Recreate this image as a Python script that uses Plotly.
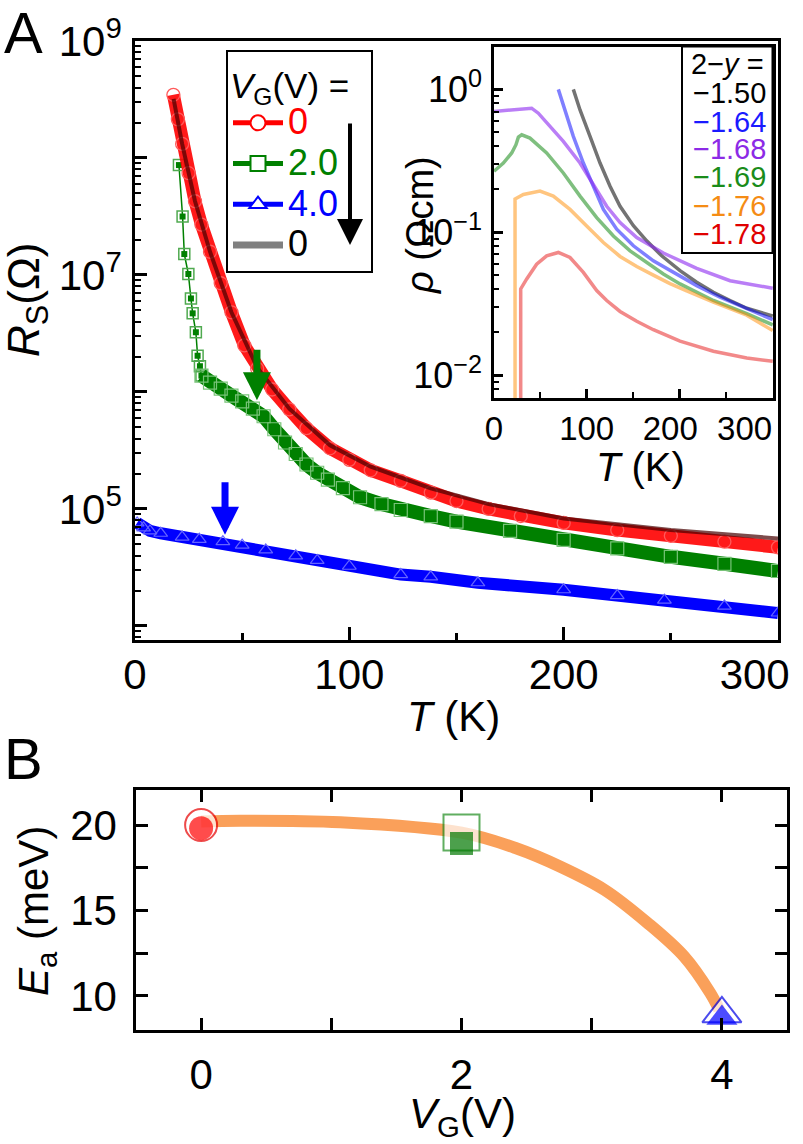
import plotly.graph_objects as go

W, H = 803, 1144
FONT = "Liberation Sans"

# ---------------- Panel A main data (T in K, R_S in Ohm) ----------------
T_red = [17.9, 20, 22, 25, 28, 31, 35, 40, 45, 51, 57, 64, 72, 80, 91, 100, 110, 124, 138, 150, 165, 180, 200, 225, 250, 275, 300]
R_red = [3.47e8, 2.14e8, 1.32e8, 7.41e7, 4.27e7, 2.69e7, 1.58e7, 8.5e6, 4.8e6, 2.5e6, 1.58e6, 1.05e6, 7.1e5, 4.9e5, 3.3e5, 2.63e5, 2.14e5, 1.74e5, 1.38e5, 1.17e5, 1.0e5, 8.7e4, 7.6e4, 6.6e4, 5.9e4, 5.25e4, 4.7e4]

T_gray = [18, 22, 28, 35, 45, 57, 72, 91, 110, 138, 165, 200, 250, 300]
R_gray = [3.2e8, 1.32e8, 4.27e7, 1.58e7, 4.8e6, 1.62e6, 7.2e5, 3.5e5, 2.3e5, 1.5e5, 1.1e5, 8.3e4, 6.6e4, 5.6e4]

T_green_lo = [20.5, 22.2, 23.0, 24.9, 26.1, 26.9, 28.4, 29.2, 30.3, 31]
R_green_lo = [8.7e7, 3.16e7, 1.51e7, 1.02e7, 6.3e6, 4.7e6, 3.24e6, 2.04e6, 1.66e6, 1.38e6]
T_green = [31, 35, 40, 45, 50, 55, 60, 65, 70, 75, 80, 85, 90, 97, 105, 115, 124, 138, 150, 175, 200, 225, 250, 275, 300]
R_green = [1.38e6, 1.2e6, 1.07e6, 9.3e5, 8.3e5, 7.2e5, 6.2e5, 4.8e5, 3.7e5, 2.95e5, 2.4e5, 2.04e5, 1.78e5, 1.51e5, 1.26e5, 1.1e5, 9.8e4, 8.7e4, 7.8e4, 6.5e4, 5.45e4, 4.6e4, 3.9e4, 3.4e4, 2.95e4]

T_blue = [1, 4, 7, 12, 22, 30, 41, 50, 61, 75, 85, 100, 124, 138, 160, 200, 225, 247, 275, 300]
R_blue = [7.6e4, 6.9e4, 6.5e4, 6.2e4, 5.75e4, 5.5e4, 5.25e4, 4.9e4, 4.47e4, 3.98e4, 3.63e4, 3.24e4, 2.75e4, 2.63e4, 2.34e4, 2.04e4, 1.82e4, 1.66e4, 1.48e4, 1.29e4]

legend_names = ["0", "2.0", "4.0", "0"]

# ---------------- Inset data (T in K, rho in Ohm cm) ----------------
inset_labels = ["\u22121.50", "\u22121.64", "\u22121.68", "\u22121.69", "\u22121.76", "\u22121.78"]
T_i150 = [85.6, 92.8, 103.6, 114.4, 125.2, 136, 150.4, 164.7, 180.9, 200.7, 218.7, 236.7, 254.7, 272.7, 300.7]
r_i150 = [1.0, 0.718, 0.469, 0.305, 0.210, 0.152, 0.111, 0.0871, 0.0684, 0.0538, 0.0447, 0.0380, 0.0333, 0.0294, 0.0259]
T_i164 = [69.4, 76.6, 85.6, 96.4, 107.2, 118, 132.4, 150.4, 171.9, 193.5, 218.7, 243.9, 272.7, 300.7]
r_i164 = [1.0, 0.700, 0.469, 0.305, 0.210, 0.1445, 0.105, 0.0804, 0.0631, 0.0524, 0.0423, 0.0351, 0.0291, 0.0245]
T_i168 = [0, 20.9, 40.6, 47.8, 60.4, 74.8, 92.8, 107.2, 121.6, 136, 154, 182.7, 218.7, 254.7, 300.7]
r_i168 = [0.700, 0.718, 0.738, 0.681, 0.550, 0.433, 0.305, 0.216, 0.152, 0.117, 0.0918, 0.0715, 0.0558, 0.0458, 0.0406]
T_i169 = [0, 10.1, 19.1, 23.7, 26.3, 29.9, 38.8, 56.8, 74.8, 92.8, 110.8, 128.8, 146.8, 164.7, 182.7, 200.7, 236.7, 272.7, 300.7]
r_i169 = [0.267, 0.305, 0.359, 0.410, 0.463, 0.481, 0.456, 0.359, 0.260, 0.179, 0.1265, 0.0942, 0.0741, 0.0615, 0.0511, 0.0435, 0.0333, 0.0269, 0.0225]
T_i176 = [22.7, 22.7, 31.7, 49.6, 64, 82, 100, 118, 136, 154, 171.9, 189.9, 207.9, 236.7, 272.7, 300.7]
r_i176 = [0.001, 0.171, 0.184, 0.194, 0.179, 0.1445, 0.1107, 0.0847, 0.0677, 0.0575, 0.0501, 0.0437, 0.0389, 0.0324, 0.0263, 0.0205]
T_i178 = [28.8, 28.8, 35.3, 46, 56.8, 69.4, 82, 96.4, 110.8, 121.6, 136, 154, 171.9, 200.7, 236.7, 272.7, 300.7]
r_i178 = [0.001, 0.0401, 0.0471, 0.0598, 0.0684, 0.0722, 0.0666, 0.0524, 0.0391, 0.0333, 0.0279, 0.0238, 0.0208, 0.0173, 0.0147, 0.0132, 0.0125]

inset_T = [T_i150, T_i164, T_i168, T_i169, T_i176, T_i178]
inset_r = [r_i150, r_i164, r_i168, r_i169, r_i176, r_i178]
inset_line_colors = ["rgba(0,0,0,0.55)", "rgba(0,0,255,0.5)", "rgba(140,40,240,0.6)",
                     "rgba(0,128,0,0.5)", "rgba(255,140,0,0.5)", "rgba(230,20,20,0.5)"]
inset_text_colors = ["#000000", "#1a1aff", "#8c2ae6", "#1a8c1a", "#f58c14", "#e00000"]

# ---------------- Panel B data ----------------
V_pts = [0, 2, 4]
Ea_open = [20.0, 19.56, 8.95]
Ea_fill = [19.81, 18.92, 8.7]
V_curve = [0, 0.3, 1.07, 2.0, 2.42, 2.76, 3.10, 3.43, 3.71, 3.91, 3.98]
Ea_curve = [20.2, 20.25, 20.16, 19.55, 18.64, 17.56, 16.2, 14.26, 12.3, 10.17, 9.18]

A_ytickvals = [1e4, 1e5, 1e6, 1e7, 1e8, 1e9]
A_yticktext = ["", "10<sup>5</sup>", "", "10<sup>7</sup>", "", "10<sup>9</sup>"]
A_xtickvals = [0, 100, 200, 300]
A_xticktext = ["0", "100", "200", "300" + "&nbsp;" * 4]
I_xtickvals = [0, 100, 200, 300]
I_xticktext = ["0", "100", "200" + "&nbsp;" * 2, "300" + "&nbsp;" * 6]
I_ytickvals = [0.01, 0.1, 1.0]
I_yticktext = ["10<sup>\u22122</sup>", "10<sup>\u22121</sup>", "10<sup>0</sup>"]
B_xtickvals = [0, 1, 2, 3, 4]
B_xticktext = ["0", "", "2", "", "4"]
B_ytickvals = [10, 12.5, 15, 17.5, 20]
B_yticktext = ["10", "", "15", "", "20"]


def px(x):
    return x / W


def py(y):
    return 1 - y / H


fig = go.Figure()

RED = "rgb(255,0,0)"
GREEN = "rgb(0,128,0)"
BLUE = "rgb(0,0,255)"

# --- main panel traces ---
fig.add_trace(go.Scatter(x=T_blue, y=R_blue, mode="lines+markers", showlegend=False,
                         line=dict(color=BLUE, width=12),
                         marker=dict(symbol="triangle-up-open", size=12, color="rgb(100,100,255)", line=dict(width=1.2)),
                         xaxis="x", yaxis="y"))
fig.add_trace(go.Scatter(x=T_green_lo, y=R_green_lo, mode="lines+markers", showlegend=False,
                         line=dict(color=GREEN, width=1.5),
                         marker=dict(symbol="square-open", size=11, color="rgb(80,170,80)", line=dict(width=1.5)),
                         xaxis="x", yaxis="y"))
fig.add_trace(go.Scatter(x=T_green_lo, y=R_green_lo, mode="markers", showlegend=False,
                         marker=dict(symbol="square", size=6, color=GREEN),
                         xaxis="x", yaxis="y"))
fig.add_trace(go.Scatter(x=T_green, y=R_green, mode="lines+markers", showlegend=False,
                         line=dict(color=GREEN, width=14),
                         marker=dict(symbol="square-open", size=13, color="rgb(120,195,120)", line=dict(width=1.2)),
                         xaxis="x", yaxis="y"))
fig.add_trace(go.Scatter(x=T_red, y=R_red, mode="lines+markers", showlegend=False,
                         line=dict(color="rgba(255,0,0,0.9)", width=13),
                         marker=dict(symbol="circle-open", size=13, color="rgb(255,90,90)", line=dict(width=1.3)),
                         xaxis="x", yaxis="y"))
fig.add_trace(go.Scatter(x=T_gray, y=R_gray, mode="lines", showlegend=False,
                         line=dict(color="rgba(70,0,0,0.7)", width=4),
                         xaxis="x", yaxis="y"))

# --- legend entries (main) ---
leg_styles = [
    dict(color=RED, symbol="circle", txt="rgb(255,0,0)", w=5),
    dict(color=GREEN, symbol="square", txt="rgb(0,128,0)", w=5),
    dict(color=BLUE, symbol="triangle-up", txt="rgb(0,0,255)", w=5),
    dict(color="rgb(128,128,128)", symbol=None, txt="black", w=7),
]
for name, st in zip(legend_names, leg_styles):
    label_html = f"<span style='color:{st['txt']};font-size:36px'>{name}</span>"
    if st["symbol"]:
        fig.add_trace(go.Scatter(x=[None], y=[None], mode="lines+markers", name=label_html,
                                 line=dict(color=st["color"], width=st["w"]),
                                 marker=dict(symbol=st["symbol"], size=15, color="white",
                                             line=dict(color=st["color"], width=2)),
                                 xaxis="x", yaxis="y"))
    else:
        fig.add_trace(go.Scatter(x=[None], y=[None], mode="lines", name=label_html,
                                 line=dict(color=st["color"], width=st["w"]),
                                 xaxis="x", yaxis="y"))

# --- inset traces ---
for Ti, ri, c in zip(inset_T, inset_r, inset_line_colors):
    fig.add_trace(go.Scatter(x=Ti, y=ri, mode="lines", showlegend=False,
                             line=dict(color=c, width=3.5), xaxis="x2", yaxis="y2"))

# --- panel B traces ---
fig.add_trace(go.Scatter(x=V_curve, y=Ea_curve, mode="lines", showlegend=False,
                         line=dict(color="rgb(250,160,90)", width=12, shape="spline"),
                         xaxis="x3", yaxis="y3"))
fig.add_trace(go.Scatter(x=V_pts, y=Ea_open, mode="markers", showlegend=False,
                         marker=dict(symbol=["circle", "square", "triangle-up"], size=[32, 36, 34],
                                     color="white",
                                     line=dict(color=["rgb(230,0,0)", "rgb(30,140,30)", "rgb(0,0,230)"], width=2)),
                         xaxis="x3", yaxis="y3"))
fig.add_trace(go.Scatter(x=V_pts, y=Ea_fill, mode="markers", showlegend=False,
                         marker=dict(symbol=["circle", "square", "triangle-up"], size=[24, 23, 27],
                                     color=["rgb(255,0,0)", "rgb(0,120,0)", "rgb(0,0,255)"],
                                     line=dict(width=0)),
                         xaxis="x3", yaxis="y3"))

axis_common = dict(showline=True, linecolor="black", linewidth=2.5, showgrid=False, zeroline=False,
                   ticks="inside", tickcolor="black", tickwidth=2.5, automargin=False,
                   ticklabeloverflow="allow", tickangle=0,
                   tickfont=dict(family=FONT, size=42, color="black"))

minorA = [k * 10 ** e for e in range(3, 9) for k in range(2, 10)]
minorI = [k * 10 ** e for e in range(-3, 1) for k in range(2, 10)]

fig.update_layout(
    template="none",
    width=W, height=H, margin=dict(l=0, r=0, t=0, b=0, pad=0, autoexpand=False),
    paper_bgcolor="white", plot_bgcolor="white",
    font=dict(family=FONT, color="black"),
    xaxis=dict(**axis_common, domain=[px(135), px(778)], range=[0, 300], anchor="y",
               tickvals=A_xtickvals, ticktext=A_xticktext, ticklen=13, mirror=True, ticklabelstandoff=-4,
               minor=dict(tickvals=[50, 150, 250], ticklen=7, ticks="inside", tickwidth=2.5, tickcolor="black")),
    yaxis=dict(**axis_common, domain=[py(640), py(41)], type="log", range=[3.88, 9.0], anchor="x",
               tickvals=A_ytickvals, ticktext=A_yticktext, ticklen=12, mirror=True, ticklabelstandoff=2,
               minor=dict(tickvals=minorA, ticklen=6, ticks="inside", tickwidth=2, tickcolor="black")),
    xaxis2=dict(**axis_common, domain=[px(494), px(773)], range=[0, 301], anchor="y2",
                tickvals=I_xtickvals, ticktext=I_xticktext, ticklen=9, mirror=True, ticklabelstandoff=0,
                minor=dict(tickvals=[50, 150, 250], ticklen=6, ticks="inside", tickwidth=2, tickcolor="black")),
    yaxis2=dict(**axis_common, domain=[py(398), py(46.5)], type="log", range=[-2.16, 0.30], anchor="x2",
                tickvals=I_ytickvals, ticktext=I_yticktext, ticklen=9, mirror=True, ticklabelstandoff=2,
                minor=dict(tickvals=minorI, ticklen=5, ticks="inside", tickwidth=2, tickcolor="black")),
    xaxis3=dict(**axis_common, domain=[px(136), px(787)], range=[-0.5, 4.5], anchor="y3",
                tickvals=B_xtickvals, ticktext=B_xticktext, ticklen=12, mirror="ticks", ticklabelstandoff=6),
    yaxis3=dict(**axis_common, domain=[py(1030), py(790)], range=[8.0, 22.05], anchor="x3",
                tickvals=B_ytickvals, ticktext=B_yticktext, ticklen=12, mirror="ticks", ticklabelstandoff=8),
    legend=dict(x=px(226), y=py(50), xanchor="left", yanchor="top",
                bordercolor="black", borderwidth=2, bgcolor="white",
                font=dict(family=FONT, size=29),
                title=dict(text="<i>V</i><sub>G</sub>(V) =&nbsp;&nbsp;", font=dict(family=FONT, size=35)),
                itemwidth=50, tracegroupgap=0, traceorder="normal"),
)
fig.update_xaxes(tickfont=dict(size=33), selector=dict(anchor="y2"))
fig.update_yaxes(tickfont=dict(size=36), selector=dict(anchor="x2"))

ann = []
def label(text, x, y, size, angle=0, xanchor="center", yanchor="middle", color="black"):
    ann.append(dict(text=text, x=px(x), y=py(y), xref="paper", yref="paper", showarrow=False,
                    font=dict(family=FONT, size=size, color=color), textangle=angle,
                    xanchor=xanchor, yanchor=yanchor))

label("A", 2, 32, 58, xanchor="left")
label("B", 2, 758, 58, xanchor="left")
label("<i>R</i><sub>S</sub>(\u03a9)", 27, 300, 44, angle=-90)
label("<i>T</i> (K)", 453, 716, 42)
label("<i>T</i> (K)", 640, 467, 40)
label("<i>\u03c1</i> (\u03a9cm)", 420, 225, 38, angle=-90)
label("<i>E</i><sub>a</sub> (meV)", 36, 911, 42, angle=-90)
label("<i>V</i><sub>G</sub>(V)", 462, 1116, 42)

# inset legend text
label("2\u2212<i>y</i> =", 766, 64, 29, xanchor="right")
inset_rows = [93, 121.5, 149, 177, 206, 234]
for t, c, yy in zip(inset_labels, inset_text_colors, inset_rows):
    label(t, 768, yy, 29, xanchor="right", color=c)

# arrows
ann.append(dict(x=56.9, y=5.93, xref="x", yref="y", ax=0, ay=-52, axref="pixel", ayref="pixel",
                showarrow=True, arrowhead=2, arrowsize=0.8, arrowwidth=7, arrowcolor=GREEN, text=""))
ann.append(dict(x=42, y=4.78, xref="x", yref="y", ax=0, ay=-54, axref="pixel", ayref="pixel",
                showarrow=True, arrowhead=2, arrowsize=0.8, arrowwidth=7, arrowcolor=BLUE, text=""))
ann.append(dict(x=px(350), y=py(245), xref="paper", yref="paper", ax=0, ay=-123,
                showarrow=True, arrowhead=2, arrowsize=1.3, arrowwidth=4, arrowcolor="black", text=""))

fig.update_layout(annotations=ann)

# inset legend box
fig.add_shape(type="rect", xref="paper", yref="paper", x0=px(682), x1=px(772.5), y0=py(253), y1=py(46.5),
              line=dict(color="black", width=2), fillcolor="rgba(0,0,0,0)")

fig.write_html("out.html", config={"displayModeBar": False},
               post_script="document.body.style.margin='0';document.body.style.overflow='hidden';")
